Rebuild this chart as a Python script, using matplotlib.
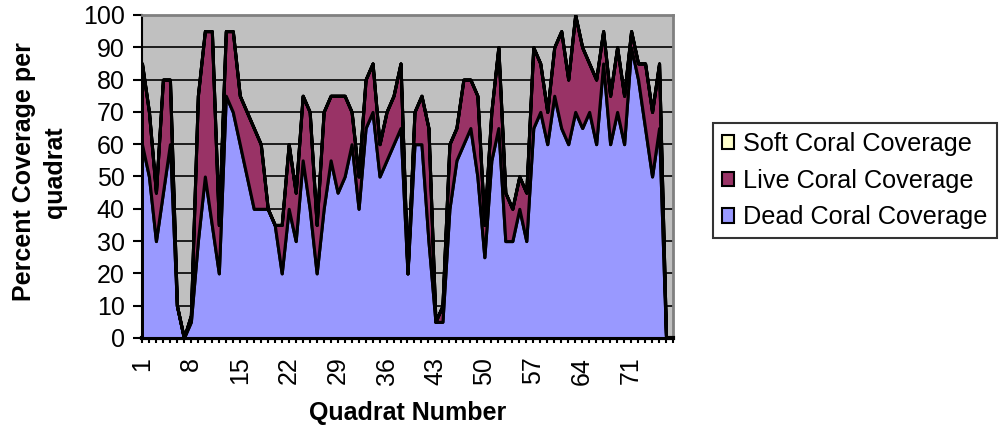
import numpy as np
import matplotlib.pyplot as plt
from matplotlib.patches import Patch

plt.rcParams['font.family'] = ['Liberation Sans', 'DejaVu Sans']

# quadrats 1..77
quadrats = np.arange(1, 78)

dead = [60, 50, 30, 45, 60, 10, 0, 5, 30, 50,
        35, 20, 75, 70, 60, 50, 40, 40, 40, 35,
        20, 40, 30, 55, 40, 20, 40, 55, 45, 50,
        60, 40, 65, 70, 50, 55, 60, 65, 20, 60,
        60, 30, 5, 5, 40, 55, 60, 65, 50, 25,
        55, 65, 30, 30, 40, 30, 65, 70, 60, 75,
        65, 60, 70, 65, 70, 60, 85, 60, 70, 60,
        90, 80, 65, 50, 65, 0, 0]

total = [85, 70, 45, 80, 80, 10, 0, 7, 75, 95,
         95, 35, 95, 95, 75, 70, 65, 60, 40, 35,
         35, 60, 45, 75, 70, 35, 70, 75, 75, 75,
         70, 50, 80, 85, 60, 70, 75, 85, 20, 70,
         75, 65, 5, 10, 60, 65, 80, 80, 75, 35,
         70, 90, 45, 40, 50, 45, 90, 85, 70, 90,
         95, 80, 100, 90, 85, 80, 95, 75, 90, 75,
         95, 85, 85, 70, 85, 0, 0]

live = [t - d for t, d in zip(total, dead)]
soft = [0] * len(quadrats)

tick_labels = [1, 8, 15, 22, 29, 36, 43, 50, 57, 64, 71]

dead_color = '#9999FF'
live_color = '#993366'
soft_color = '#FFFFCC'

fig = plt.figure(figsize=(9.99, 4.28), dpi=100)
ax = fig.add_axes([0.1421, 0.2103, 0.5316, 0.7547])
ax.set_facecolor('#C0C0C0')

ax.stackplot(quadrats, dead, live, soft,
             colors=[dead_color, live_color, soft_color],
             edgecolor='black', linewidth=2.2, zorder=3)

ax.set_xlim(1, 77)
ax.set_ylim(0, 100)
ax.set_yticks(range(0, 101, 10))
ax.yaxis.grid(True, color='black', linewidth=1.2, zorder=1)
ax.set_axisbelow(True)

ax.set_xticks(quadrats, minor=True)
ax.set_xticks(tick_labels)
ax.set_xticklabels([str(t) for t in tick_labels], rotation=90)
ax.tick_params(axis='x', which='both', length=3.5, width=1.5, direction='out',
               labelsize=18, pad=10)
ax.tick_params(axis='y', length=6.5, width=1.5, labelsize=18, pad=6)

for side in ('left', 'bottom'):
    ax.spines[side].set_color('black')
    ax.spines[side].set_linewidth(1.5)
ax.spines['bottom'].set_linewidth(3)
for side in ('top', 'right'):
    ax.spines[side].set_color('#808080')
    ax.spines[side].set_linewidth(2)

ax.set_xlabel('Quadrat Number', fontsize=18, fontweight='bold', labelpad=12)
fig.text(0.0395, 0.598, 'Percent Coverage per\nquadrat', rotation=90,
         ha='center', va='center', fontsize=18, fontweight='bold',
         multialignment='center', linespacing=1.4)

handles = [Patch(facecolor=soft_color, edgecolor='black', linewidth=1.5),
           Patch(facecolor=live_color, edgecolor='black', linewidth=1.5),
           Patch(facecolor=dead_color, edgecolor='black', linewidth=1.5)]
labels = ['Soft Coral Coverage', 'Live Coral Coverage', 'Dead Coral Coverage']
leg = fig.legend(handles, labels, loc='upper left',
                 bbox_to_anchor=(0.7137, 0.712), fontsize=18.2,
                 frameon=True, fancybox=False, handlelength=0.5,
                 handleheight=0.5, handletextpad=0.35, borderpad=0.35,
                 labelspacing=0.5, borderaxespad=0)
leg.get_frame().set_edgecolor('black')
leg.get_frame().set_linewidth(1.5)

fig.savefig('out.png', dpi=100)
